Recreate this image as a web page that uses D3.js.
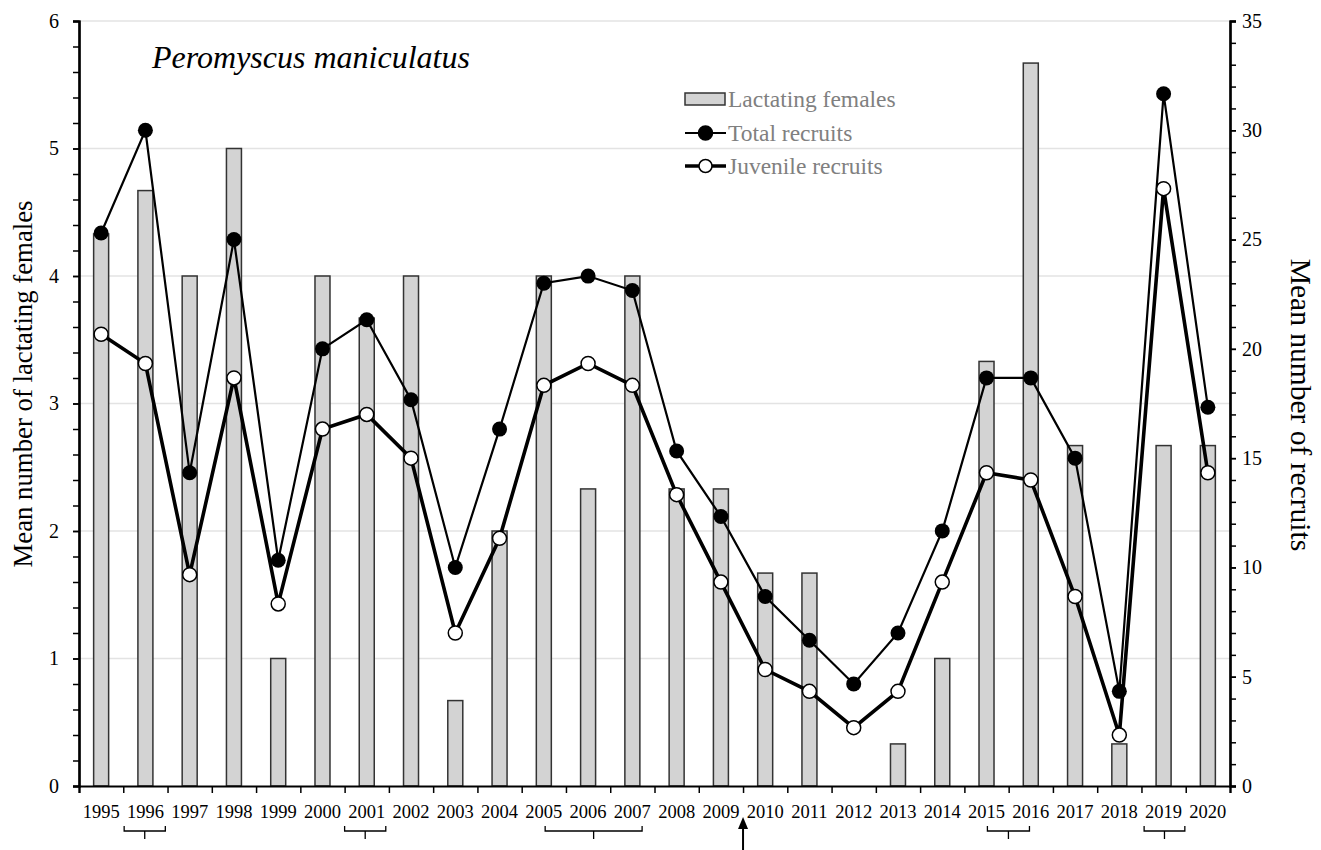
<!DOCTYPE html>
<html>
<head>
<meta charset="utf-8">
<script src="https://cdn.jsdelivr.net/npm/d3@7"></script>
<style>
  html, body { margin: 0; padding: 0; background: #fff; }
  svg { display: block; font-family: "Liberation Serif", "Times New Roman", serif; }
</style>
</head>
<body>
<svg id="chart" width="1321" height="850"></svg>
<script>
// Peromyscus maniculatus: lactating females (bars, left axis) and recruits (lines, right axis)
const years = d3.range(1995, 2021);
const lactatingFemales = [4.33, 4.67, 4.0, 5.0, 1.0, 4.0, 3.67, 4.0, 0.67, 2.0, 4.0, 2.33, 4.0,
  2.33, 2.33, 1.67, 1.67, 0, 0.33, 1.0, 3.33, 5.67, 2.67, 0.33, 2.67, 2.67];
const totalRecruits = [25.3, 30.0, 14.33, 25.0, 10.33, 20.0, 21.33, 17.67, 10.0, 16.33, 23.0, 23.33, 22.67,
  15.33, 12.33, 8.67, 6.67, 4.67, 7.0, 11.67, 18.67, 18.67, 15.0, 4.33, 31.67, 17.33];
const juvenileRecruits = [20.67, 19.33, 9.67, 18.67, 8.33, 16.33, 17.0, 15.0, 7.0, 11.33, 18.33, 19.33, 18.33,
  13.33, 9.33, 5.33, 4.33, 2.67, 4.33, 9.33, 14.33, 14.0, 8.67, 2.33, 27.33, 14.33];
const leftTicks = [0, 1, 2, 3, 4, 5, 6];
const rightTicks = [0, 5, 10, 15, 20, 25, 30, 35];
// Year groupings marked under the axis: [start, end] in continuous year units
const brackets = [[1996.02, 1996.95], [2001.0, 2001.93], [2005.53, 2007.72], [2015.52, 2016.47], [2019.06, 2019.98]];
const arrowYear = 2010;

const svg = d3.select("#chart");
const margin = { left: 79, right: 91, top: 21, bottom: 64 };
const W = 1321, H = 850;
const x0 = margin.left, x1 = W - margin.right;
const y0 = H - margin.bottom, y1 = margin.top;

const x = d3.scaleBand().domain(years).range([x0, x1]).paddingInner(0).paddingOuter(0);
const xc = d3.scaleLinear().domain([1995, 2021]).range([x0, x1]);
const yL = d3.scaleLinear().domain([0, 6]).range([y0, y1]);
const yR = d3.scaleLinear().domain([0, 35]).range([y0, y1]);

// gridlines
svg.append("g").selectAll("line").data(leftTicks.filter(d => d > 0)).join("line")
  .attr("x1", x0).attr("x2", x1)
  .attr("y1", d => yL(d)).attr("y2", d => yL(d))
  .attr("stroke", "#e3e3e3").attr("stroke-width", 1.3);

// bars
const barW = 15;
svg.append("g").selectAll("rect").data(years).join("rect")
  .attr("x", (d) => x(d) + x.bandwidth() / 2 - barW / 2)
  .attr("width", barW)
  .attr("y", (d, i) => yL(lactatingFemales[i]))
  .attr("height", (d, i) => y0 - yL(lactatingFemales[i]))
  .attr("fill", "#d3d3d3")
  .attr("stroke", "#333")
  .attr("stroke-width", 1.5)
  .style("display", (d, i) => lactatingFemales[i] > 0 ? null : "none");

const cx = d => x(d) + x.bandwidth() / 2;

// lines
const lineTot = d3.line().x((d, i) => cx(years[i])).y(d => yR(d));
svg.append("path").attr("d", lineTot(totalRecruits))
  .attr("fill", "none").attr("stroke", "#000").attr("stroke-width", 2.2);
svg.append("path").attr("d", lineTot(juvenileRecruits))
  .attr("fill", "none").attr("stroke", "#000").attr("stroke-width", 3.6);

// markers
svg.append("g").selectAll("circle").data(totalRecruits).join("circle")
  .attr("cx", (d, i) => cx(years[i])).attr("cy", d => yR(d)).attr("r", 7.5)
  .attr("fill", "#000");
svg.append("g").selectAll("circle").data(juvenileRecruits).join("circle")
  .attr("cx", (d, i) => cx(years[i])).attr("cy", d => yR(d)).attr("r", 7)
  .attr("fill", "#fff").attr("stroke", "#000").attr("stroke-width", 1.5);

// axes
const axisStyle = g => {
  g.select(".domain").attr("stroke", "#000").attr("stroke-width", 2.2);
  g.selectAll(".tick line").attr("stroke", "#000").attr("stroke-width", 1.5);
  g.selectAll("text").attr("font-family", "Liberation Serif, serif").attr("fill", "#000");
};

// left minor ticks
svg.append("g").attr("transform", `translate(${x0},0)`)
  .call(d3.axisLeft(yL).tickValues(d3.range(0, 6.01, 0.2)).tickSize(6).tickFormat(""))
  .call(axisStyle);
svg.append("g").attr("transform", `translate(${x0},0)`)
  .call(d3.axisLeft(yL).tickValues(leftTicks).tickSize(6).tickPadding(14).tickFormat(d3.format("d")))
  .call(axisStyle)
  .call(g => g.selectAll("text").attr("font-size", 20));

svg.append("g").attr("transform", `translate(${x1},0)`)
  .call(d3.axisRight(yR).tickValues(d3.range(0, 35.01, 1)).tickSize(6).tickFormat(""))
  .call(axisStyle);
svg.append("g").attr("transform", `translate(${x1},0)`)
  .call(d3.axisRight(yR).tickValues(rightTicks).tickSize(6).tickPadding(6).tickFormat(d3.format("d")))
  .call(axisStyle)
  .call(g => g.selectAll("text").attr("font-size", 20).attr("text-anchor", "start"));

// bottom axis: ticks at category boundaries
svg.append("g").attr("transform", `translate(0,${y0})`)
  .call(d3.axisBottom(xc).tickValues(d3.range(1995, 2022)).tickSize(7).tickFormat(""))
  .call(axisStyle);
svg.append("g").selectAll("text").data(years).join("text")
  .attr("x", d => cx(d)).attr("y", y0 + 32)
  .attr("text-anchor", "middle").attr("font-size", 18.5)
  .text(d => d);

// brackets under the year labels
const bTop = 826, bBot = 831, bTick = 839;
brackets.forEach(([a, b]) => {
  const xa = xc(a), xb = xc(b), xm = (xa + xb) / 2;
  svg.append("path")
    .attr("d", `M${xa},${bTop}V${bBot}H${xb}V${bTop}M${xm},${bBot}V${bTick}`)
    .attr("fill", "none").attr("stroke", "#000").attr("stroke-width", 1.3);
});

// arrow
const ax = xc(arrowYear);
svg.append("line").attr("x1", ax).attr("x2", ax).attr("y1", 826).attr("y2", 850)
  .attr("stroke", "#000").attr("stroke-width", 2);
svg.append("path").attr("d", `M${ax},817L${ax - 5},829L${ax + 5},829Z`).attr("fill", "#000");

// axis titles
svg.append("text")
  .attr("transform", "translate(32,384) rotate(-90)")
  .attr("text-anchor", "middle").attr("font-size", 28)
  .attr("textLength", 367).attr("lengthAdjust", "spacingAndGlyphs")
  .text("Mean number of lactating females");
svg.append("text")
  .attr("transform", "translate(1291,405) rotate(90)")
  .attr("text-anchor", "middle").attr("font-size", 29.5)
  .text("Mean number of recruits");

// species name
svg.append("text").attr("x", 152).attr("y", 68)
  .attr("font-size", 32).attr("font-style", "italic")
  .text("Peromyscus maniculatus");

// legend
const lg = svg.append("g").attr("transform", "translate(685,0)");
const legendItems = [
  { label: "Lactating females", kind: "bar", y: 99 },
  { label: "Total recruits", kind: "filled", y: 133 },
  { label: "Juvenile recruits", kind: "open", y: 166 }
];
legendItems.forEach(it => {
  if (it.kind === "bar") {
    lg.append("rect").attr("x", 0).attr("y", it.y - 6).attr("width", 40).attr("height", 12)
      .attr("fill", "#d3d3d3").attr("stroke", "#333").attr("stroke-width", 1.5);
  } else {
    lg.append("line").attr("x1", 0).attr("x2", 41).attr("y1", it.y).attr("y2", it.y)
      .attr("stroke", "#000").attr("stroke-width", it.kind === "open" ? 3.6 : 2.2);
    lg.append("circle").attr("cx", 20.5).attr("cy", it.y).attr("r", it.kind === "open" ? 6.5 : 7)
      .attr("fill", it.kind === "open" ? "#fff" : "#000")
      .attr("stroke", "#000").attr("stroke-width", 1.5);
  }
  lg.append("text").attr("x", 43).attr("y", it.y + 8)
    .attr("font-size", 23.5).attr("fill", "#808080")
    .text(it.label);
});
</script>
</body>
</html>
